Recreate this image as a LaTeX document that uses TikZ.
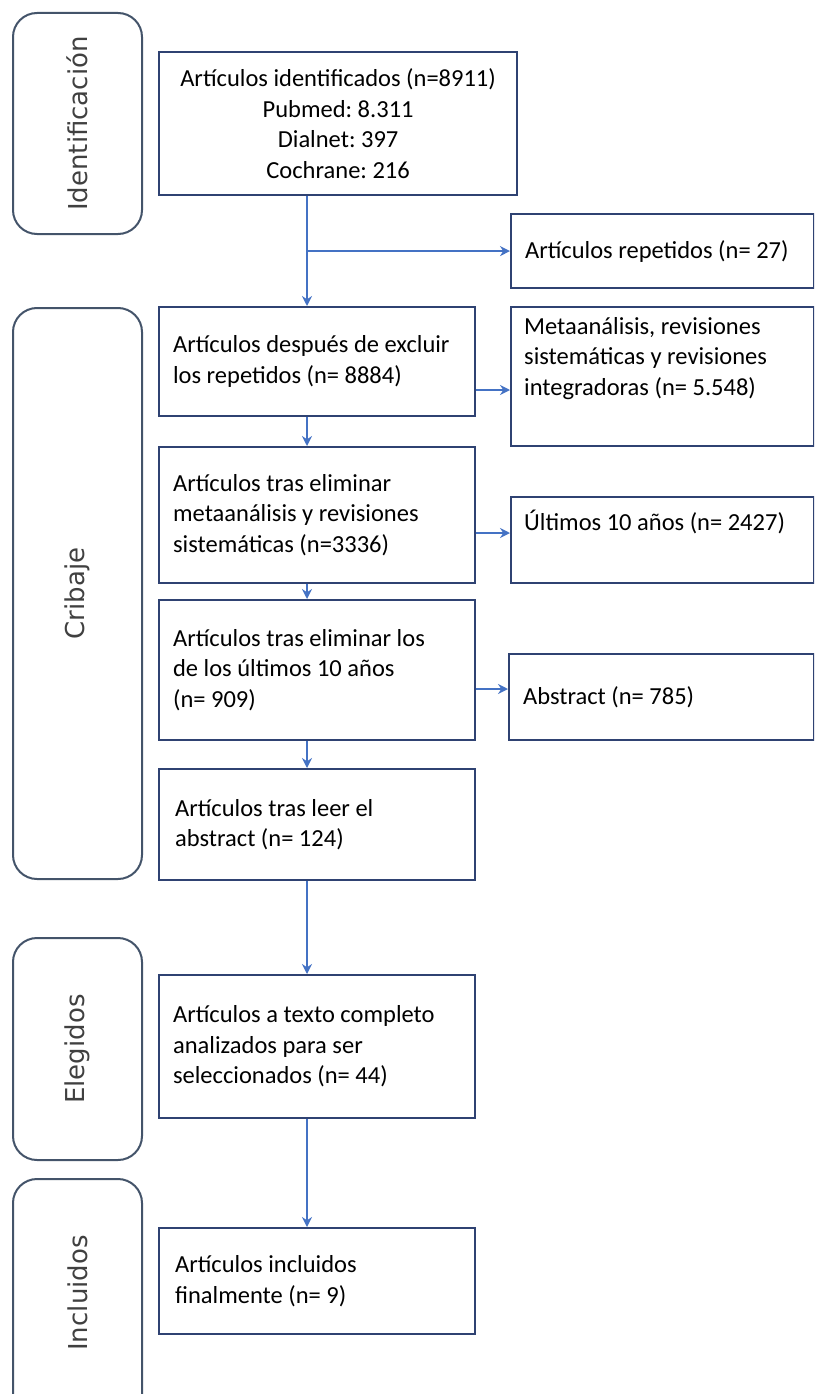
\documentclass[tikz,border=0pt]{standalone}
\usepackage{fontspec}
\setmainfont{Carlito}
\newfontfamily\sidefont{DejaVu Sans}
\usetikzlibrary{arrows.meta,calc}
\definecolor{boxc}{HTML}{2F4272}
\definecolor{arrc}{HTML}{4472C4}
\definecolor{sidec}{HTML}{44546A}
\definecolor{sidet}{HTML}{404040}
\frenchspacing
\begin{document}
\begin{tikzpicture}[x=1pt,y=-1pt,
  box/.style={draw=boxc,line width=2.2pt,anchor=north west,inner xsep=14pt,inner ysep=0pt,align=flush left,
    font=\frenchspacing\fontsize{24.5}{30.5}\selectfont},
  btext/.style={anchor=north west,inner sep=0pt,align=flush left,font=\frenchspacing\fontsize{24.5}{30.5}\selectfont},
  side/.style={draw=sidec,line width=2pt,rounded corners=24pt,anchor=north west,inner sep=0pt},
  sidelabel/.style={rotate=90,font=\sidefont\fontsize{26}{30}\selectfont,text=sidet},
  arr/.style={draw=arrc,line width=1.8pt,-{Stealth[length=10pt,width=10pt]}}]
\useasboundingbox (0,0) rectangle (814,1394);
\clip (0,0) rectangle (814,1394);

% side boxes
\node[side,minimum width=129,minimum height=221] (sI) at (12,12) {};
\node[sidelabel] (lI) at (sI.center) {Identificación};
\node[side,minimum width=129,minimum height=571] (sC) at (12,307) {};
\node[sidelabel] (lC) at (sC.center) {Cribaje};
\node[side,minimum width=129,minimum height=222] (sE) at (12,937) {};
\node[sidelabel] (lE) at (sE.center) {Elegidos};
\node[side,minimum width=129,minimum height=260] (sN) at (12,1178) {};
\node[sidelabel] (lN) at ([yshift=16pt]sN.center) {Incluidos};

% main boxes
\node[box,minimum width=358,minimum height=143,text width=330,align=flush center] (b1) at (158,51)
  {Artículos identificados (n=8911)\\Pubmed: 8.311\\Dialnet: 397\\Cochrane: 216};
\node[box,minimum width=316,minimum height=109,text width=288] (b2) at (158,306)
  {Artículos después de excluir\\los repetidos (n= 8884)};
\node[box,minimum width=316,minimum height=136,text width=288] (b3) at (158,446)
  {Artículos tras eliminar\\metaanálisis y revisiones\\sistemáticas (n=3336)};
\node[box,minimum width=316,minimum height=140,text width=288] (b4) at (158,599)
  {Artículos tras eliminar los\\de los últimos 10 años\\(n= 909)};
\node[box,minimum width=316,minimum height=111,text width=284,inner xsep=16pt] (b5) at (158,768)
  {Artículos tras leer el\\abstract (n= 124)};
\node[box,minimum width=316,minimum height=143,text width=288] (b6) at (158,974)
  {Artículos a texto completo\\analizados para ser\\seleccionados (n= 44)};
\node[box,minimum width=316,minimum height=106,text width=284,inner xsep=16pt] (b7) at (158,1227)
  {Artículos incluidos\\finalmente (n= 9)};

% right boxes
\node[box,minimum width=303,minimum height=74,text width=275] (r1) at (510,213)
  {Artículos repetidos (n= 27)};
\node[box,minimum width=303,minimum height=139] (r2) at (510,306) {};
\node[btext] (r2t) at ([xshift=14pt,yshift=-11pt]r2.north west)
  {Metaanálisis, revisiones\\sistemáticas y revisiones\\integradoras (n= 5.548)};
\node[box,minimum width=303,minimum height=86] (r3) at (510,496) {};
\node[btext] (r3t) at ([xshift=14pt,yshift=-14pt]r3.north west)
  {Últimos 10 años (n= 2427)};
\node[box,minimum width=305,minimum height=86,text width=277] (r4) at (508,653)
  {Abstract (n= 785)};

% connectors
\coordinate (tr) at (307,0);
\draw[arr] (b1.south -| tr) -- (b2.north -| tr);
\draw[arr] (r1.west -| tr) -- (r1.west);
\draw[arr] (b2.south -| tr) -- (b3.north -| tr);
\draw[arr] (b3.south -| tr) -- (b4.north -| tr);
\draw[arr] (b4.south -| tr) -- (b5.north -| tr);
\draw[arr] (b5.south -| tr) -- (b6.north -| tr);
\draw[arr] (b6.south -| tr) -- (b7.north -| tr);
\draw[arr] (b2.east |- 0,390) -- (r2.west |- 0,390);
\draw[arr] (b3.east |- 0,533) -- (r3.west |- 0,533);
\draw[arr] (b4.east |- 0,689) -- (r4.west |- 0,689);
\end{tikzpicture}
\end{document}
